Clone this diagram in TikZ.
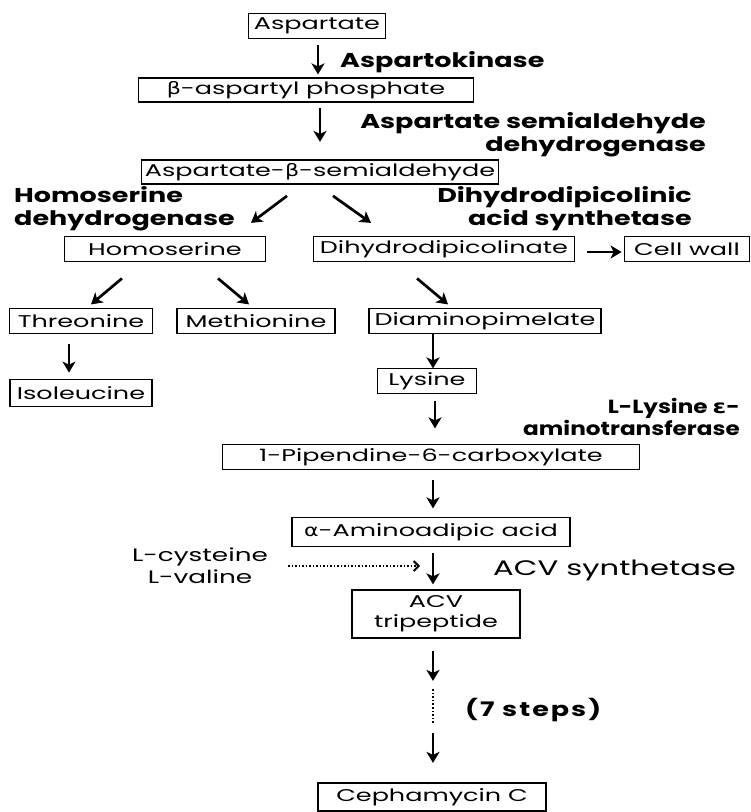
\documentclass[tikz,border=0pt]{standalone}
\usepackage{fontspec}
\usetikzlibrary{arrows.meta,calc}
\setmainfont{Poppins}
\newfontfamily\boxfont[FakeStretch=1.5]{Poppins}
\newfontfamily\labfont[FakeStretch=1.35]{Poppins}
\newfontfamily\labfontn[FakeStretch=1.22]{Poppins}
\newfontfamily\regfont[FakeStretch=1.46]{Poppins}
\newfontfamily\gkbox[FakeStretch=1.3]{DejaVu Sans}
\newcommand{\gk}[1]{{\gkbox #1}}
\begin{document}
\begin{tikzpicture}[x=1pt,y=-1pt,
  bx/.style={draw, line width=1.8pt, inner sep=0pt, minimum height=25pt,
    font=\boxfont\fontsize{17}{20}\selectfont},
  lab/.style={font=\labfont\bfseries\fontsize{20}{23}\selectfont, inner sep=0pt},
  reg/.style={font=\regfont\fontsize{18}{22}\selectfont, inner sep=0pt},
  arr/.style={line width=2.7pt, -{Stealth[length=11pt,width=13pt,inset=3pt]}},
  dotarr/.style={line width=1.5pt, dotted, -{Straight Barb[length=5pt,width=10pt,line width=2pt]}}]
\useasboundingbox (0,0) rectangle (751,812);
% boxes
\node[bx, minimum width=137pt] (asp) at (317,26) {Aspartate};
\node[bx, minimum width=335pt, minimum height=24pt] (bap) at (306,90) {\gk{β}-aspartyl phosphate};
\node[bx, minimum width=357pt, minimum height=24pt] (asa) at (320,172) {Aspartate-\gk{β}-semialdehyde};
\node[bx, minimum width=201pt] (hom) at (165,249) {Homoserine};
\node[bx, minimum width=261pt] (dhd) at (444,249) {Dihydrodipicolinate};
\node[bx, minimum width=125pt] (cw) at (687,249) {Cell wall};
\node[bx, minimum width=143pt] (thr) at (81,321) {Threonine};
\node[bx, minimum width=158pt] (met) at (256,321) {Methionine};
\node[bx, minimum width=232pt] (dap) at (485,321) {Diaminopimelate};
\node[bx, minimum width=142pt, minimum height=27pt] (ile) at (81,393) {Isoleucine};
\node[bx, minimum width=99pt] (lys) at (427,381) {Lysine};
\node[bx, minimum width=417pt] (pip) at (431,457) {1-Pipendine-6-carboxylate};
\node[bx, minimum width=278pt, minimum height=29pt] (aaa) at (431,532) {\gk{α}-Aminoadipic acid};
\node[bx, minimum width=168pt, minimum height=48pt, align=center] (acv) at (436,614) {ACV\\tripeptide};
\node[bx, minimum width=228pt, minimum height=28pt] (cep) at (432,797) {Cephamycin C};
% labels
\node[lab, anchor=west] (l1) at (340,62) {Aspartokinase};
\node[lab, anchor=east, align=right] (l2) at (706,135) {Aspartate semialdehyde\\dehydrogenase};
\node[lab, anchor=west, align=left] (l3) at (14,209) {Homoserine\\dehydrogenase};
\node[lab, anchor=east, align=right] (l4) at (692,209) {Dihydrodipicolinic\\acid synthetase};
\node[lab, font=\labfontn\bfseries\fontsize{19}{22}\selectfont, anchor=east, align=right] (l5) at (740,417) {L-Lysine \gk{ε}-\\aminotransferase};
\node[reg, font=\regfont\fontsize{21}{24}\selectfont, anchor=west] (l6) at (493,570) {ACV synthetase};
\node[reg, align=center] (l7) at (200,566) {L-cysteine\\L-valine};
\node[lab, font=\labfont\bfseries\fontsize{20}{23}\selectfont\addfontfeature{LetterSpace=10}, anchor=west] (l8) at (465,710) {(7 steps)};
% arrows
\draw[arr] ($(asp.south)+(1,6)$) -- ($(asp.south)+(1,35)$);
\draw[arr] ($(bap.south)+(14,5)$) -- ($(bap.south)+(14,39)$);
\draw[arr] ($(asa.south)+(-33,11)$) -- ($(asa.south)+(-69,38)$);
\draw[arr] ($(asa.south)+(13,11)$) -- ($(asa.south)+(51,38)$);
\draw[arr] ($(dhd.east)+(12,3)$) -- ($(cw.west)+(-2,3)$);
\draw[arr] ($(hom.south)+(-43,16)$) -- ($(hom.south)+(-74,42)$);
\draw[arr] ($(hom.south)+(53,16)$) -- ($(hom.south)+(84,42)$);
\draw[arr] ($(dhd.south)+(-27,16)$) -- ($(dhd.south)+(4,42)$);
\draw[arr] ($(thr.south)+(-12,10)$) -- ($(ile.north)+(-12,-6)$);
\draw[arr] ($(dap.south)+(-52,0)$) -- ($(dap.south)+(-52,34)$);
\draw[arr] ($(lys.south)+(8,7)$) -- ($(lys.south)+(8,34)$);
\draw[arr] ($(pip.south)+(2,10)$) -- ($(pip.south)+(2,38)$);
\draw[arr] ($(aaa.south)+(2,6)$) -- ($(aaa.south)+(2,37)$);
\draw[dotarr] ($(l7.east)+(20,0)$) -- ($(l7.east)+(152,0)$);
\coordinate (d1) at ($(acv.south)+(-3,50)$);
\coordinate (d2) at ($(acv.south)+(-3,85)$);
\draw[arr] ($(acv.south)+(-3,12)$) -- ($(acv.south)+(-3,42)$);
\draw[line width=1.6pt, dotted] (d1) -- (d2);
\draw[arr] ($(acv.south)+(-3,94)$) -- ($(acv.south)+(-3,124)$);
\end{tikzpicture}
\end{document}
